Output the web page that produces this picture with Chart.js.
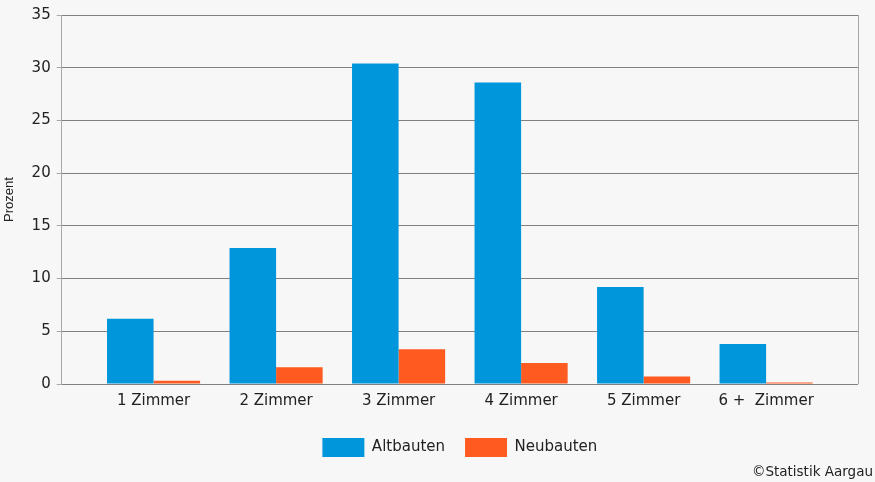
<!DOCTYPE html>
<html>
<head>
<meta charset="utf-8">
<script src="https://cdn.jsdelivr.net/npm/chart.js@4"></script>
<style>
    html, body { margin: 0; padding: 0; background: #f7f7f7; }
    #wrap { position: relative; width: 875px; height: 482px; }
    #copy { position: absolute; right: 2px; bottom: 3px; font: 13.5px 'DejaVu Sans', sans-serif; color: #222; }
</style>
</head>
<body>
<div id="wrap">
    <canvas id="chart" width="875" height="482"></canvas>
    <div id="copy">©Statistik Aargau</div>
</div>
<script>
const categories = ['1 Zimmer', '2 Zimmer', '3 Zimmer', '4 Zimmer', '5 Zimmer', '6 +  Zimmer'];
const altbauten = [6.2, 12.9, 30.4, 28.6, 9.2, 3.8];
const neubauten = [0.3, 1.6, 3.3, 2.0, 0.7, 0.15];
const yTicks = [0, 5, 10, 15, 20, 25, 30, 35];

const FONT = "'DejaVu Sans', sans-serif";

// right edge of the plot frame + legend centred on the plot area
const frameRight = {
    id: 'frameRight',
    afterLayout(chart) {
        if (chart.legend) {
            chart.legend.left = chart.chartArea.left;
            chart.legend.right = chart.chartArea.right;
        }
    },
    beforeDatasetsDraw(chart) {
        const { ctx, chartArea } = chart;
        ctx.save();
        ctx.strokeStyle = '#a8a8a8';
        ctx.lineWidth = 1;
        ctx.beginPath();
        ctx.moveTo(Math.round(chartArea.right) + 0.5, chartArea.top);
        ctx.lineTo(Math.round(chartArea.right) + 0.5, chartArea.bottom);
        ctx.stroke();
        ctx.restore();
    }
};

document.addEventListener('DOMContentLoaded', () => {
    const ctx = document.getElementById('chart').getContext('2d');
    new Chart(ctx, {
        type: 'bar',
        data: {
            datasets: [{
                label: 'Altbauten',
                data: altbauten.map((v, i) => ({ x: i, y: v })),
                backgroundColor: '#0096dc',
                categoryPercentage: 0.76,
                barPercentage: 1
            }, {
                label: 'Neubauten',
                data: neubauten.map((v, i) => ({ x: i, y: v })),
                backgroundColor: '#ff5a1f',
                categoryPercentage: 0.76,
                barPercentage: 1
            }]
        },
        options: {
            responsive: false,
            animation: false,
            layout: { padding: { left: 2, right: 17, top: 9, bottom: 15 } },
            plugins: {
                tooltip: { enabled: false },
                legend: {
                    position: 'bottom',
                    labels: {
                        boxWidth: 42,
                        boxHeight: 19,
                        padding: 20,
                        color: '#222',
                        font: { family: FONT, size: 15 }
                    }
                }
            },
            scales: {
                x: {
                    type: 'linear',
                    offset: false,
                    min: -0.75,
                    max: 5.75,
                    afterBuildTicks: s => { s.ticks = categories.map((c, i) => ({ value: i })); },
                    grid: { display: false, drawTicks: false },
                    border: { display: false },
                    ticks: {
                        color: '#222',
                        padding: 8,
                        font: { family: FONT, size: 15 },
                        callback: v => categories[v]
                    }
                },
                y: {
                    min: 0,
                    max: 35,
                    afterBuildTicks: s => { s.ticks = yTicks.map(v => ({ value: v })); },
                    grid: { color: '#808080', tickLength: 5, tickColor: '#a8a8a8' },
                    border: { color: '#a8a8a8' },
                    ticks: {
                        color: '#222',
                        padding: 6,
                        font: { family: FONT, size: 15 }
                    },
                    title: {
                        display: true,
                        text: 'Prozent',
                        color: '#222',
                        padding: { top: 0, bottom: 8 },
                        font: { family: "'Liberation Sans', sans-serif", size: 13 }
                    }
                }
            }
        },
        plugins: [frameRight]
    });
});
</script>
</body>
</html>
